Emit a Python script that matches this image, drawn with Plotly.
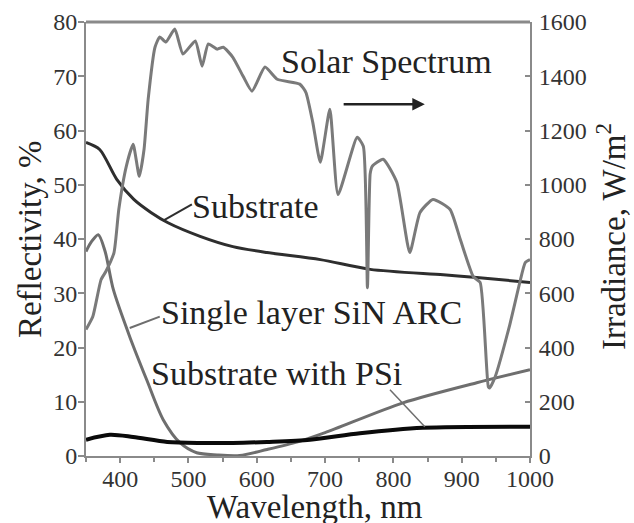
import plotly.graph_objects as go

# ---- data ----
solar_wl = [350, 360, 372, 379, 391, 398, 409, 419, 428, 435, 441, 451, 458, 467, 480, 492, 510, 520, 529,
            542, 551, 565, 580, 593, 612, 630, 663, 672, 682, 693, 707, 719, 747, 756, 762, 766, 769, 785,
            805, 824, 839, 858, 883, 898, 917, 927, 939, 941, 949, 970, 985, 993, 1000]
solar_irr = [466, 514, 650, 680, 750, 909, 1068, 1149, 1031, 1131, 1315, 1507, 1545, 1526, 1574, 1482, 1530,
             1437, 1519, 1500, 1507, 1470, 1400, 1345, 1434, 1389, 1371, 1340, 1230, 1083, 1278, 964, 1175,
             1142, 620, 1040, 1068, 1094, 1009, 750, 898, 946, 909, 798, 661, 640, 255, 251, 292, 480, 639,
             713, 724]

sub_wl = [350, 370, 395, 420, 445, 470, 517, 565, 615, 693, 766, 873, 922, 1000]
sub_r = [57.8, 56.5, 51.0, 47.3, 44.9, 43.0, 40.5, 38.6, 37.5, 36.2, 34.4, 33.4, 32.9, 32.0]

arc_wl = [350, 358, 368, 378, 390, 414, 439, 463, 488, 512, 542, 575, 615, 660, 700, 814, 922, 1000]
arc_r = [37.7, 39.5, 40.8, 37.7, 30.7, 22.0, 14.0, 6.7, 2.4, 0.6, 0.2, 0.1, 1.2, 2.6, 4.3, 9.8, 13.5, 15.9]

psi_wl = [350, 385, 419, 469, 517, 565, 615, 678, 751, 843, 1000]
psi_r = [3.0, 3.9, 3.5, 2.6, 2.4, 2.4, 2.6, 3.0, 4.2, 5.2, 5.4]

x_ticks = [400, 500, 600, 700, 800, 900, 1000]
y_ticks = [0, 10, 20, 30, 40, 50, 60, 70, 80]
y2_ticks = [0, 200, 400, 600, 800, 1000, 1200, 1400, 1600]

FONT = "Liberation Serif, Times New Roman, serif"
SOLAR_C = "#7a7a7a"
ARC_C = "#6e6e6e"
SUB_C = "#2e2e2e"
PSI_C = "#0a0a0a"
AX_C = "#8a8a8a"

fig = go.Figure()
fig.add_trace(go.Scatter(x=solar_wl, y=solar_irr, yaxis="y2", mode="lines",
                         line=dict(color=SOLAR_C, width=3, shape="spline", smoothing=0.5),
                         showlegend=False))
fig.add_trace(go.Scatter(x=sub_wl, y=sub_r, mode="lines",
                         line=dict(color=SUB_C, width=3, shape="spline", smoothing=0.8), showlegend=False))
fig.add_trace(go.Scatter(x=arc_wl, y=arc_r, mode="lines",
                         line=dict(color=ARC_C, width=3, shape="spline", smoothing=0.8), showlegend=False))
fig.add_trace(go.Scatter(x=psi_wl, y=psi_r, mode="lines",
                         line=dict(color=PSI_C, width=4, shape="spline", smoothing=0.8), showlegend=False))

tickfont = dict(family=FONT, size=24, color="#333")
titlefont = dict(family=FONT, size=33, color="#222")

fig.update_layout(
    width=634, height=523,
    margin=dict(l=86, r=104, t=22, b=67, autoexpand=False),
    paper_bgcolor="white", plot_bgcolor="white",
    font=dict(family=FONT, color="#222"),
    xaxis=dict(range=[350, 1000], tickvals=x_ticks, ticks="outside", ticklen=5, tickwidth=1.5,
               tickcolor=AX_C, showline=True, linecolor=AX_C, linewidth=2, mirror=False,
               showgrid=False, zeroline=False, tickfont=tickfont, ticklabelstandoff=-5,
               minor=dict(dtick=50, tick0=350, ticks="outside", ticklen=4, tickcolor=AX_C)),
    yaxis=dict(range=[0, 80], tickvals=y_ticks, ticks="outside", ticklen=6, tickwidth=1.5,
               tickcolor=AX_C, showline=True, linecolor=AX_C, linewidth=2, showgrid=False,
               zeroline=False, tickfont=tickfont, ticklabelstandoff=-4),
    yaxis2=dict(range=[0, 1600], tickvals=y2_ticks, overlaying="y", side="right", ticks="inside",
                ticklen=5, tickwidth=1.5, tickcolor=AX_C, showline=True, linecolor=AX_C, linewidth=2,
                showgrid=False, zeroline=False, tickfont=tickfont, ticklabelstandoff=2),
)

# top frame line
fig.add_shape(type="line", xref="paper", yref="paper", x0=0, x1=1, y0=1, y1=1,
              line=dict(color=AX_C, width=3))

# axis titles as annotations for exact placement
fig.add_annotation(xref="paper", yref="paper", x=0.516, y=-0.118, text="Wavelength, nm",
                   showarrow=False, xanchor="center", yanchor="middle", font=titlefont)
fig.add_annotation(xref="paper", yref="paper", x=-0.126, y=0.50, text="Reflectivity, %",
                   showarrow=False, xanchor="center", yanchor="middle", textangle=-90, font=titlefont)
fig.add_annotation(xref="paper", yref="paper", x=1.183, y=0.505, text="Irradiance, W/m<sup>2</sup>",
                   showarrow=False, xanchor="center", yanchor="middle", textangle=-90, font=titlefont)

ann_font = dict(family=FONT, size=34, color="#222")
fig.add_annotation(x=632, y=72.7, text="Solar Spectrum", showarrow=False, xanchor="left",
                   yanchor="middle", font=ann_font)
fig.add_annotation(x=846, y=64.85, ax=725, ay=64.85, axref="x", ayref="y", xref="x", yref="y",
                   text="", showarrow=True, arrowhead=2, arrowsize=1, arrowwidth=2.5, arrowcolor="#222")
fig.add_annotation(x=502, y=45.9, text="Substrate", showarrow=False, xanchor="left",
                   yanchor="middle", font=ann_font)
fig.add_annotation(x=457, y=26.5, text="Single layer SiN ARC", showarrow=False, xanchor="left",
                   yanchor="middle", font=ann_font)
fig.add_annotation(x=442, y=15.15, text="Substrate with PSi", showarrow=False, xanchor="left",
                   yanchor="middle", font=ann_font)

# leader lines
fig.add_shape(type="line", x0=505, y0=46.4, x1=463, y1=43.4, line=dict(color=SUB_C, width=2))
fig.add_shape(type="line", x0=458, y0=25.7, x1=414, y1=23.6, line=dict(color=ARC_C, width=2))
fig.add_shape(type="line", x0=795, y0=12.2, x1=846, y1=5.4, line=dict(color=ARC_C, width=1.5))

fig.write_html("out.html", config={"displayModeBar": False},
               post_script="document.body.style.margin='0';")
